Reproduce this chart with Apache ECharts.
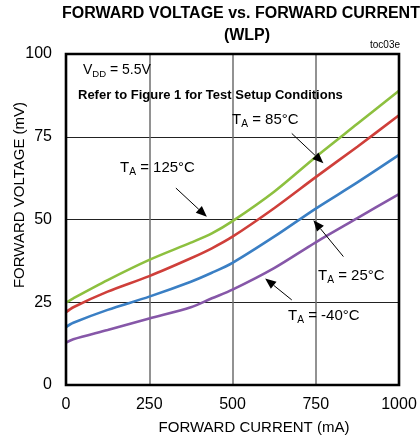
<!DOCTYPE html>
<html><head><meta charset="utf-8">
<script src="https://cdn.jsdelivr.net/npm/echarts@6/dist/echarts.min.js"></script>
<style>html,body{margin:0;padding:0;background:#fff}#c{width:420px;height:443px}</style>
</head><body><div id="c"></div>
<script>
const FONT = "'Liberation Sans',Arial,sans-serif";
const currents = [0, 22, 125, 250, 375, 438, 500, 625, 750, 875, 1000];
const t125 = [24.9, 26.2, 31.7, 37.8, 43.0, 45.8, 49.5, 58.4, 68.9, 78.9, 88.9];
const t85  = [22.0, 23.5, 28.2, 32.9, 38.3, 41.3, 44.8, 53.4, 62.8, 72.0, 81.5];
const t25  = [17.5, 18.8, 22.7, 26.7, 31.2, 33.9, 36.9, 44.8, 53.3, 61.2, 69.5];
const tm40 = [12.8, 13.8, 16.6, 20.1, 23.5, 26.2, 28.8, 35.3, 43.1, 50.4, 57.7];
const xTicks = [0, 250, 500, 750, 1000];
const yTicks = [0, 25, 50, 75, 100];

const chart = echarts.init(document.getElementById('c'), null, {renderer:'canvas'});
function pts(v){ return currents.map((x,i)=>[x, v[i]]); }
function ser(name, v, color){
  return {name, type:'line', data:pts(v), smooth:0.3, showSymbol:false, symbol:'none',
    lineStyle:{color, width:2.6}, z:5};
}
chart.setOption({
  animation:false,
  grid:{left:66, right:21, top:54, bottom:58, containLabel:false},
  xAxis:{type:'value', min:xTicks[0], max:xTicks[xTicks.length-1], interval:250,
    axisLine:{show:false}, axisTick:{show:false},
    axisLabel:{color:'#000', fontSize:16, fontFamily:FONT, margin:12, formatter:v=>String(v)},
    splitLine:{show:true, lineStyle:{color:'#6e6e6e', width:1.5}}},
  yAxis:{type:'value', min:yTicks[0], max:yTicks[yTicks.length-1], interval:25,
    axisLine:{show:false}, axisTick:{show:false},
    axisLabel:{color:'#000', fontSize:16, fontFamily:FONT, margin:14, formatter:v=>String(v)},
    splitLine:{show:true, lineStyle:{color:'#222', width:1.2}}},
  series:[ser('125', t125, '#8dc03f'), ser('85', t85, '#cf3f3a'), ser('25', t25, '#3a7fc4'), ser('-40', tm40, '#8657a8')]
});

function arrow(x1,y1,x2,y2){
  const p1 = chart.convertToPixel({gridIndex:0},[x1,y1]);
  const p2 = chart.convertToPixel({gridIndex:0},[x2,y2]);
  const dx=p2[0]-p1[0], dy=p2[1]-p1[1], L=Math.hypot(dx,dy), ux=dx/L, uy=dy/L;
  const hl=11, hw=4.5;
  const bx=p2[0]-ux*hl, by=p2[1]-uy*hl;
  return [
    {type:'line', shape:{x1:p1[0],y1:p1[1],x2:bx,y2:by}, style:{stroke:'#000', lineWidth:1}, z:20},
    {type:'polygon', shape:{points:[[p2[0],p2[1]],[bx-uy*hw,by+ux*hw],[bx+uy*hw,by-ux*hw]]}, style:{fill:'#000'}, z:20}
  ];
}
function label(x,y,main,sub,rest,size){
  return {type:'text', x, y, z:20, style:{
    text:'{a|'+main+'}{s|'+sub+'}{a|'+rest+'}', fontFamily:FONT,
    rich:{a:{fontSize:size, fill:'#000', fontFamily:FONT, lineHeight:20},
          s:{fontSize:size*0.68, fill:'#000', fontFamily:FONT, padding:[9,0,0,0], lineHeight:20}}}};
}
const box = chart.convertToPixel({gridIndex:0},[0,100]);
const box2 = chart.convertToPixel({gridIndex:0},[1000,0]);
chart.setOption({graphic:[
  {type:'rect', shape:{x:box[0], y:box[1], width:box2[0]-box[0], height:box2[1]-box[1]}, style:{fill:null, stroke:'#000', lineWidth:2.6}, z:30},
  {type:'text', x:62, y:14, style:{text:'FORWARD VOLTAGE vs. FORWARD CURRENT', fontSize:16, fontWeight:'bold', fontFamily:FONT, fill:'#000', align:'left', verticalAlign:'middle'}},
  {type:'text', x:247, y:36, style:{text:'(WLP)', fontSize:16, fontWeight:'bold', fontFamily:FONT, fill:'#000', align:'center', verticalAlign:'middle'}},
  {type:'text', x:400, y:45, style:{text:'toc03e', fontSize:10, fontFamily:FONT, fill:'#000', align:'right', verticalAlign:'middle'}},
  {type:'text', x:78, y:95, style:{text:'Refer to Figure 1 for Test Setup Conditions', fontSize:13, fontWeight:'bold', fontFamily:FONT, fill:'#000', verticalAlign:'middle'}},
  label(83, 60, 'V', 'DD', ' = 5.5V', 14),
  label(232, 110, 'T', 'A', ' = 85°C', 15),
  label(120, 158, 'T', 'A', ' = 125°C', 15),
  label(318, 266, 'T', 'A', ' = 25°C', 15),
  label(288, 306, 'T', 'A', ' = -40°C', 15),
  ...arrow(678,76.0,773,67.0),
  ...arrow(330,59.5,423,50.8),
  ...arrow(833,38.8,743,49.8),
  ...arrow(678,25.7,598,32.2),
  {type:'text', x:20, y:195, rotation:Math.PI/2, style:{text:'FORWARD VOLTAGE (mV)', fontSize:15, fontFamily:FONT, fill:'#000', align:'center', verticalAlign:'middle'}},
  {type:'text', x:254, y:428, style:{text:'FORWARD CURRENT (mA)', fontSize:15, fontFamily:FONT, fill:'#000', align:'center', verticalAlign:'middle'}}
]});
</script></body></html>
